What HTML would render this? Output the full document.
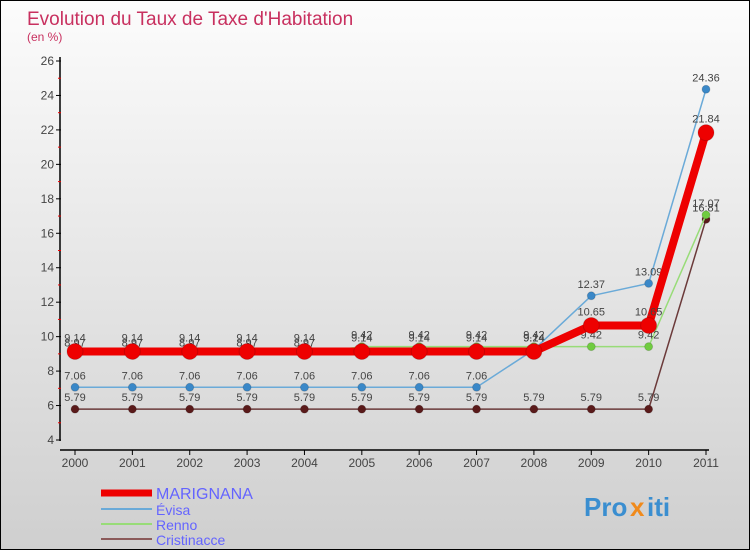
<!DOCTYPE html>
<html><head><meta charset="utf-8"><style>
html,body{margin:0;padding:0}
body{width:750px;height:550px;overflow:hidden;font-family:"Liberation Sans",sans-serif}
#wrap{position:relative;width:748px;height:548px;border:1px solid #000;background:linear-gradient(#fcfcfc,#cfcfcf)}
</style></head><body>
<div id="wrap">
<svg id="chart" width="748" height="548">
<text x="26" y="24" font-size="19" fill="#c8305f">Evolution du Taux de Taxe d'Habitation</text>
<text x="26" y="40" font-size="12" fill="#c8305f">(en %)</text>
<g id="axes"></g><g id="series"></g><g id="legend"></g>
<g font-size="26" font-weight="bold">
<text x="583" y="515" fill="#3a8ed0">Pro</text><text x="629" y="515" fill="#f08a1c">x</text><text x="646" y="515" fill="#3a8ed0">iti</text>
</g>
</svg>
</div>
<script>
const years=[2000,2001,2002,2003,2004,2005,2006,2007,2008,2009,2010,2011];
const yTicks=[4,6,8,10,12,14,16,18,20,22,24,26];
const marignana=[9.14,9.14,9.14,9.14,9.14,9.14,9.14,9.14,9.14,10.65,10.65,21.84];
const evisa=[7.06,7.06,7.06,7.06,7.06,7.06,7.06,7.06,9.24,12.37,13.09,24.36];
const renno=[8.97,8.97,8.97,8.97,8.97,9.42,9.42,9.42,9.42,9.42,9.42,17.07];
const cristinacce=[5.79,5.79,5.79,5.79,5.79,5.79,5.79,5.79,5.79,5.79,5.79,16.81];
const names=["MARIGNANA","Évisa","Renno","Cristinacce"];
const NS="http://www.w3.org/2000/svg";
const X=i=>74+(705-74)*i/(years.length-1);
const Y=v=>439-(v-4)*(439-60)/22;
function mk(t,a,p){const e=document.createElementNS(NS,t);for(const k in a)e.setAttribute(k,a[k]);p.appendChild(e);return e;}
const ax=document.getElementById('axes');
let l=mk('line',{x1:59,y1:56,x2:59,y2:440,stroke:'#000','stroke-width':1.5},ax);

l=mk('line',{x1:59,y1:449,x2:708,y2:449,stroke:'#000','stroke-width':1.5},ax);

yTicks.forEach((v,i)=>{
 mk('line',{x1:55,y1:Y(v),x2:60,y2:Y(v),stroke:'#000'},ax);
 if(i<yTicks.length-1)mk('line',{x1:57,y1:Y(v+1),x2:60,y2:Y(v+1),stroke:'#e00'},ax);
 const t=mk('text',{x:53,y:Y(v)+4,'font-size':12,fill:'#444','text-anchor':'end'},ax);t.textContent=v;
 
});
years.forEach((y,i)=>{
 mk('line',{x1:X(i),y1:449,x2:X(i),y2:454,stroke:'#000'},ax);
 const t=mk('text',{x:X(i),y:466,'font-size':12,fill:'#444','text-anchor':'middle'},ax);t.textContent=y;
 
});
const sg=document.getElementById('series');
const defs=[[cristinacce,'#6b3a3a','#5a1a1a',1.5,4],[renno,'#98dc78','#70cc40',1.5,4],[evisa,'#6aaad8','#3a88c8',1.5,4],[marignana,'#ee0000','#ee0000',8,8]];
const keys=['cristinacce','renno','evisa','marignana'];
defs.forEach((d,si)=>{
 const g=mk('g',{},sg);
 
 mk('polyline',{points:d[0].map((v,i)=>X(i)+','+Y(v)).join(' '),fill:'none',stroke:d[1],'stroke-width':d[3],'stroke-linejoin':'round'},g);
 d[0].forEach((v,i)=>{
  const c=mk('circle',{cx:X(i),cy:Y(v),r:d[4],fill:d[2],stroke:'rgba(0,0,0,0.15)'},g);
  
  const t=mk('text',{x:X(i),y:Y(v)-8,'font-size':11,fill:'#444','text-anchor':'middle'},g);
  t.textContent=v.toFixed(2).replace(/0$/,'');
  if(keys[si]==='marignana')t.setAttribute('y',Y(v)-10);
 });
});
const lg=document.getElementById('legend');
const lc=['#ee0000','#6aaad8','#98dc78','#8b5a5a'],lw=[7,2,2,2],ly=[492,508,523,538];
names.forEach((n,i)=>{
 const g=mk('g',{},lg);
 
 mk('line',{x1:100,y1:ly[i],x2:151,y2:ly[i],stroke:lc[i],'stroke-width':lw[i]},g);
 const t=mk('text',{x:155,y:ly[i]+6,'font-size':i?14:16,fill:'#6464ff'},g);t.textContent=n;
});
</script>
</body></html>
